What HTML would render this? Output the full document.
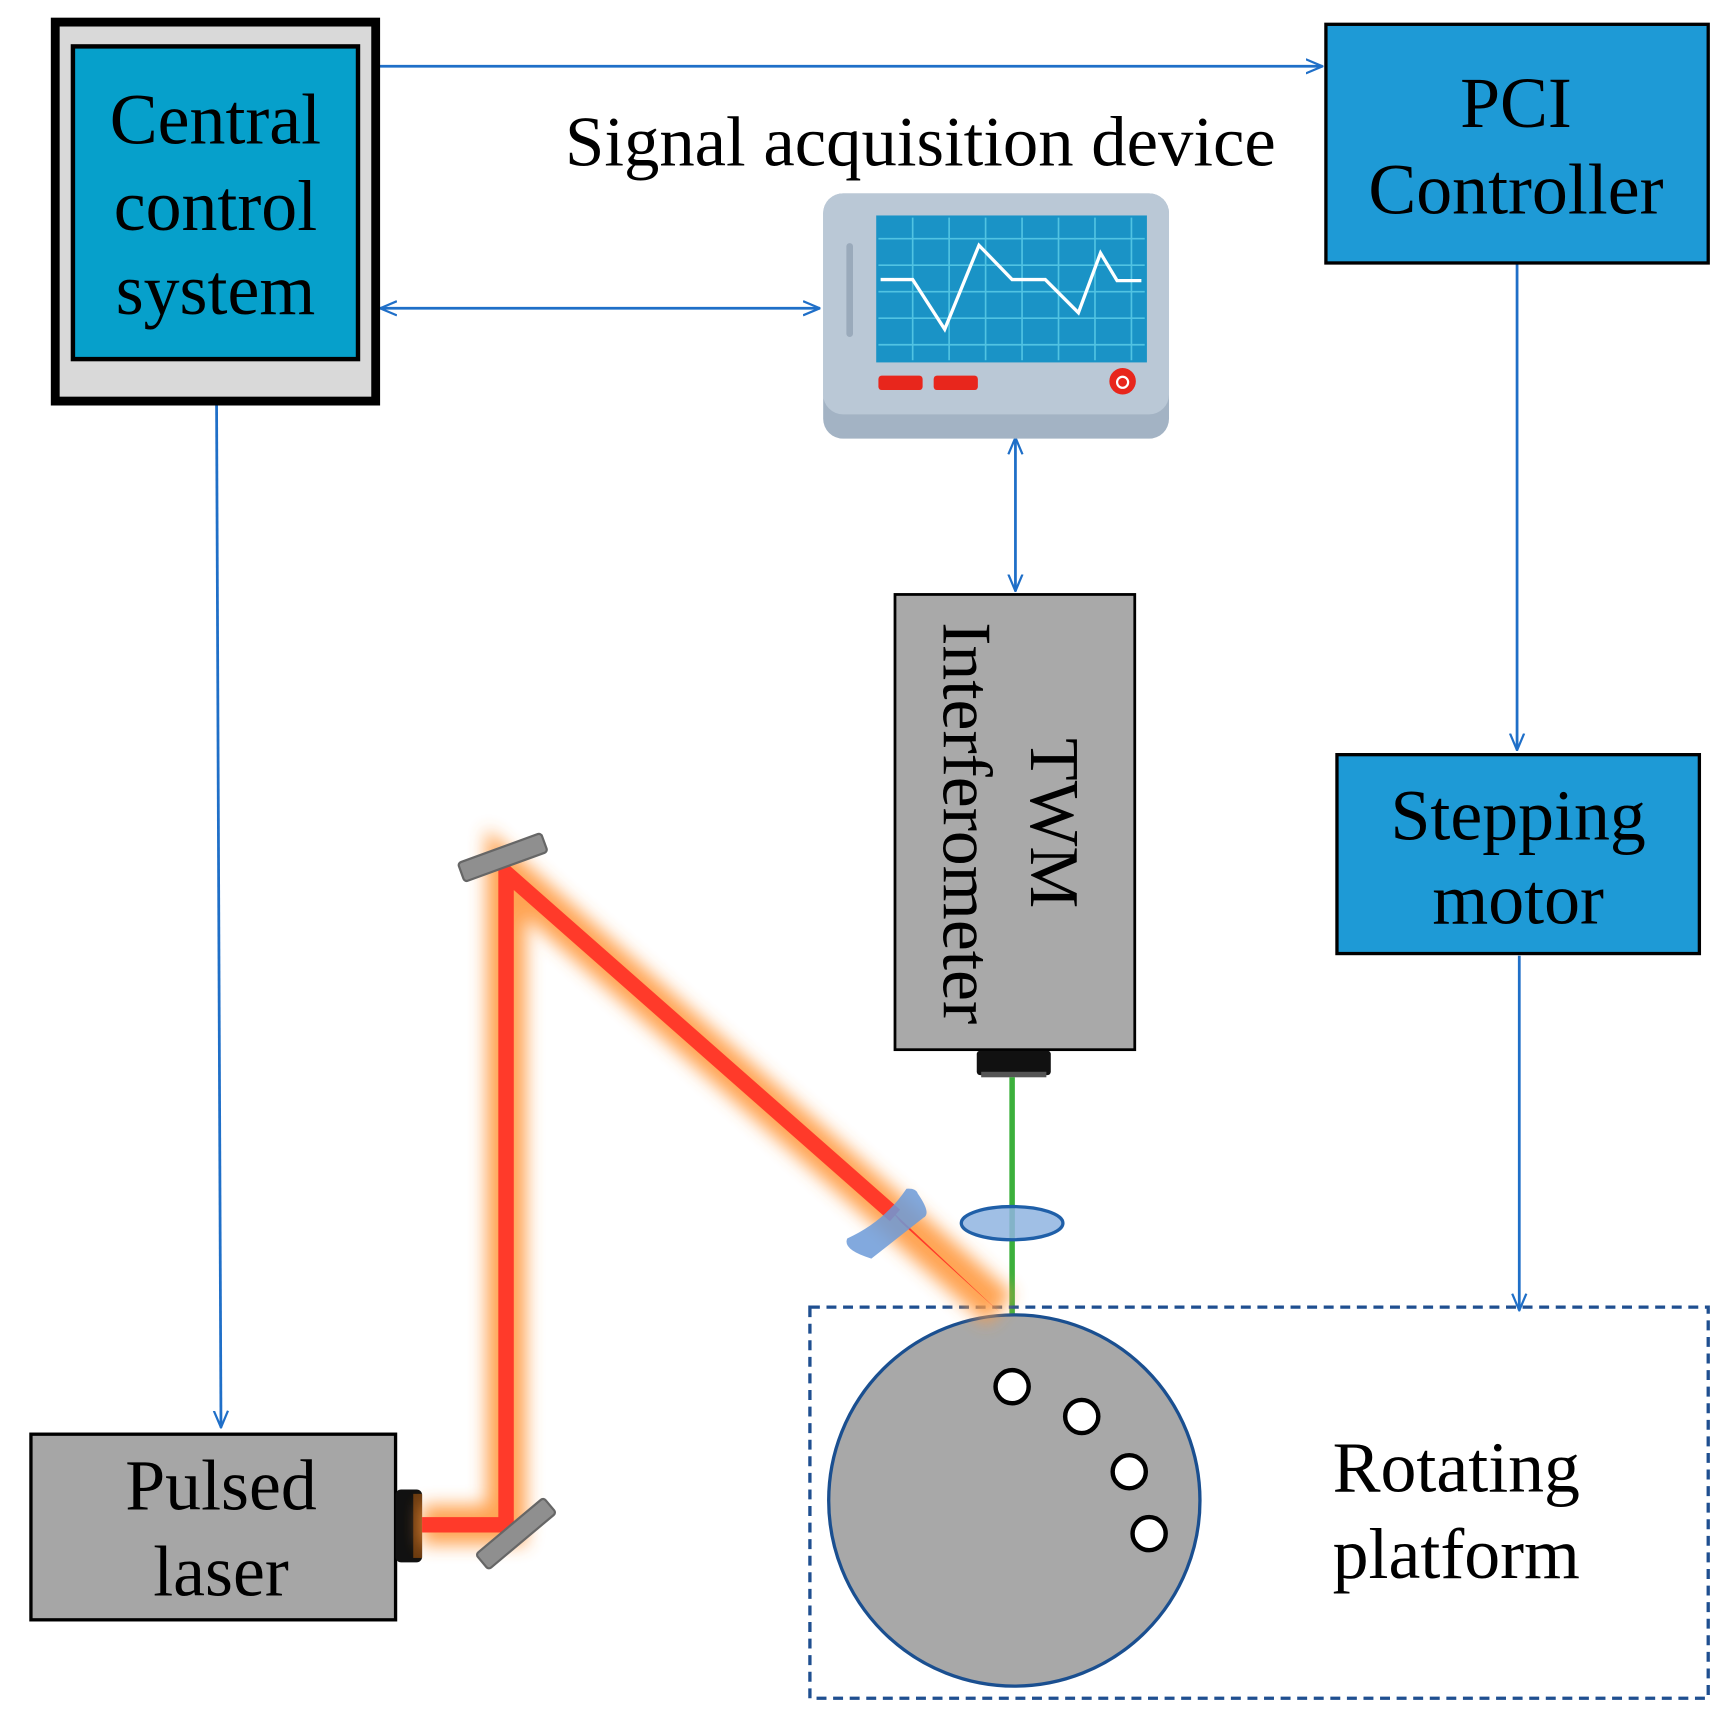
<!DOCTYPE html>
<html><head><meta charset="utf-8"><style>
html,body{margin:0;padding:0;background:#fff}
svg{display:block}
text{font-family:"Liberation Serif",serif;fill:#000}
</style></head><body>
<svg width="1727" height="1727" viewBox="0 0 1563 1563" xmlns="http://www.w3.org/2000/svg">
<defs>
<marker id="ah2" viewBox="0 0 20 20" refX="19" refY="10" markerWidth="16" markerHeight="16" orient="auto-start-reverse" markerUnits="userSpaceOnUse">
<path d="M0,2 L19,10 L0,18" fill="none" stroke="#1f6fc8" stroke-width="2.5"/></marker>
<filter id="glow" x="-50%" y="-50%" width="200%" height="200%"><feGaussianBlur stdDeviation="8"/></filter>
<filter id="glow2" x="-50%" y="-50%" width="200%" height="200%"><feGaussianBlur stdDeviation="5"/></filter>
</defs>

<g stroke="#1f6fc8" stroke-width="2.5" fill="none">
<line x1="343" y1="60" x2="1197" y2="60" marker-end="url(#ah2)"/>
<line x1="344" y1="279" x2="742" y2="279" marker-start="url(#ah2)" marker-end="url(#ah2)"/>
<line x1="919" y1="396" x2="919" y2="535" marker-start="url(#ah2)" marker-end="url(#ah2)"/>
<line x1="1373" y1="238" x2="1373" y2="679" marker-end="url(#ah2)"/>
<line x1="1375" y1="865" x2="1375" y2="1186" marker-end="url(#ah2)"/>
<line x1="196" y1="365" x2="200" y2="1292" marker-end="url(#ah2)"/>
</g>

<rect x="50" y="20" width="290" height="343" fill="#d9d9d9" stroke="#000" stroke-width="8"/>
<rect x="66" y="42" width="258" height="283" fill="#06a0cb" stroke="#000" stroke-width="4"/>
<g font-size="65" text-anchor="middle">
<text x="195" y="130">Central</text>
<text x="195" y="208">control</text>
<text x="195" y="284">system</text>
</g>

<rect x="1200" y="22" width="346" height="216" fill="#1e9ad6" stroke="#000" stroke-width="3"/>
<g font-size="65" text-anchor="middle">
<text x="1372" y="115">PCI</text>
<text x="1372" y="193">Controller</text>
</g>

<rect x="1210" y="683" width="328" height="180" fill="#1e9ad6" stroke="#000" stroke-width="3"/>
<g font-size="65" text-anchor="middle" style="fill:#1a1a1a">
<text x="1374" y="760">Stepping</text>
<text x="1374" y="836">motor</text>
</g>

<text x="833" y="150" font-size="64" text-anchor="middle">Signal acquisition device</text>

<rect x="745" y="175" width="313" height="222" rx="18" fill="#a3b3c4"/>
<rect x="745" y="175" width="313" height="200" rx="18" fill="#bac8d6"/>
<rect x="766" y="220" width="6" height="85" rx="3" fill="#9aaabb"/>
<rect x="793" y="195" width="245" height="133" fill="#1a93c6"/>
<g stroke="#5fd0ea" stroke-width="1.5" opacity="0.8">
<line x1="826" y1="197" x2="826" y2="326"/><line x1="859" y1="197" x2="859" y2="326"/><line x1="892" y1="197" x2="892" y2="326"/><line x1="925" y1="197" x2="925" y2="326"/><line x1="958" y1="197" x2="958" y2="326"/><line x1="991" y1="197" x2="991" y2="326"/><line x1="1024" y1="197" x2="1024" y2="326"/>
<line x1="795" y1="216" x2="1036" y2="216"/><line x1="795" y1="240" x2="1036" y2="240"/><line x1="795" y1="264" x2="1036" y2="264"/><line x1="795" y1="288" x2="1036" y2="288"/><line x1="795" y1="312" x2="1036" y2="312"/>
</g>
<polyline points="797,253 826,253 855,298 886,222 916,253 946,253 976,283 996,229 1011,254 1033,254" fill="none" stroke="#fff" stroke-width="3"/>
<rect x="795" y="340" width="40" height="13" rx="3" fill="#e8261c"/>
<rect x="845" y="340" width="40" height="13" rx="3" fill="#e8261c"/>
<circle cx="1016" cy="345" r="12" fill="#e8261c"/>
<circle cx="1016" cy="346" r="5" fill="none" stroke="#fff" stroke-width="2"/>

<rect x="810" y="538" width="217" height="412" fill="#a9a9a9" stroke="#000" stroke-width="2.5"/>
<g font-size="63" text-anchor="middle">
<text transform="translate(933,745) rotate(90)">TWM</text>
<text transform="translate(854,745) rotate(90)">Interferometer</text>
</g>
<rect x="884" y="951" width="67" height="22" rx="3" fill="#111"/>
<rect x="888" y="970" width="59" height="5" fill="#555"/>

<line x1="916" y1="978" x2="916" y2="1190" stroke="#7fe07f" stroke-width="26" filter="url(#glow2)"/>
<line x1="916" y1="975" x2="916" y2="1190" stroke="#3cb03c" stroke-width="5"/>
<ellipse cx="916" cy="1107" rx="46" ry="15" fill="#8fb4e0" fill-opacity="0.85" stroke="#1f5fa8" stroke-width="3"/>

<rect x="733" y="1183" width="813" height="354" fill="none" stroke="#1f4f90" stroke-width="3" stroke-dasharray="9,6"/>
<circle cx="918" cy="1358" r="168" fill="#a8a8a8" stroke="#1a4f90" stroke-width="3"/>
<g fill="#fff" stroke="#000" stroke-width="4">
<circle cx="916" cy="1255" r="15"/><circle cx="979" cy="1282" r="15"/><circle cx="1022" cy="1332" r="15"/><circle cx="1040" cy="1388" r="15"/>
</g>
<g font-size="65" text-anchor="middle">
<text x="1318" y="1350">Rotating</text>
<text x="1318" y="1428">platform</text>
</g>

<rect x="28" y="1298" width="330" height="168" fill="#a6a6a6" stroke="#000" stroke-width="3"/>
<g font-size="65" text-anchor="middle">
<text x="200" y="1366">Pulsed</text>
<text x="200" y="1444">laser</text>
</g>
<rect x="358" y="1348" width="24" height="66" rx="5" fill="#111"/>
<rect x="374" y="1352" width="8" height="58" fill="#6a3a10"/>

<g filter="url(#glow)" opacity="0.9">
<polyline points="382,1380 458,1380 458,790 905,1185" fill="none" stroke="#ff9a40" stroke-width="36" stroke-linejoin="miter"/>
</g>
<polyline points="382,1380 458,1380 458,790 810,1100" fill="none" stroke="#ff3a2a" stroke-width="14"/>
<polygon points="805,1094 815,1106 905,1188" fill="#ff3a2a"/>

<g fill="#8f8f8f" stroke="#666" stroke-width="2">
<rect x="-40" y="-9" width="80" height="18" rx="3" transform="translate(455,776) rotate(-20)"/>
<rect x="-40" y="-9" width="80" height="18" rx="3" transform="translate(467,1388) rotate(-40)"/>
</g>
<path d="M0,-40 Q22,-38 20,-30 L18,30 Q-5,45 -10,35 Q0,0 -10,-35 Q-5,-42 0,-40z" fill="#6c9ad8" fill-opacity="0.85" transform="translate(800,1106) rotate(50)"/>
</svg>
</body></html>
